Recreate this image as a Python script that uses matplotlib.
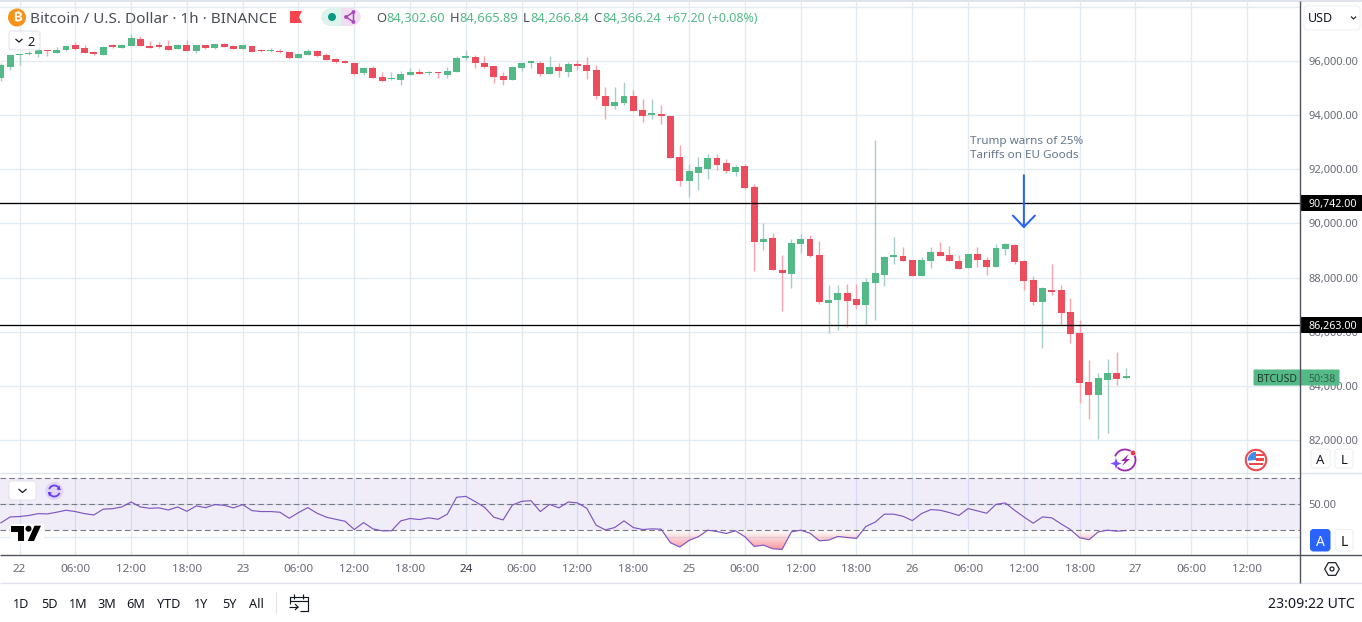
import numpy as np
import matplotlib
matplotlib.use("Agg")
import matplotlib.pyplot as plt
from matplotlib.patches import Circle, FancyBboxPatch, Polygon, Rectangle, RegularPolygon, Arc, Wedge
from matplotlib.path import Path

plt.rcParams['font.family'] = ['Noto Sans', 'DejaVu Sans']

# ---------------- data (hourly candles, first bar = 21 Mar 22:00) ----------------
opens = [95360, 95790, 96210, 96245, 96245, 96380, 96305, 96415, 96600, 96490, 96345, 96230, 96565, 96490, 96565,
         96825, 96565, 96550, 96565, 96455, 96600, 96380, 96600, 96490, 96640, 96565, 96455, 96565, 96380, 96355,
         96345, 96345, 96120, 96230, 96380, 96230, 96085, 96010, 95935, 95570, 95755, 95420, 95320, 95310, 95495,
         95605, 95545, 95570, 95495, 95605, 96120, 96160, 95935, 95825, 95460, 95310, 95755, 95935, 95935, 95530,
         95790, 95605, 95865, 95865, 95680, 94720, 94350, 94460, 94720, 94205, 94020, 94055, 93980, 92470, 91585,
         91880, 92025, 92430, 92245, 91915, 92135, 91360, 89330, 89480, 88300, 88150, 89260, 89445, 88855, 87080,
         87190, 87450, 87230, 87005, 87820, 88115, 88780, 88815, 88670, 88080, 88630, 88965, 88855, 88630, 88375,
         88890, 88670, 88410, 89075, 89220, 88630, 87930, 87120, 87560, 87560, 86750, 85975, 84165, 83685, 84240,
         84500, 84302]
highs = [95925, 96230, 96260, 96355, 96440, 96420, 96530, 96590, 96690, 96600, 96370, 96565, 96640, 96640, 97005,
         96935, 96735, 96700, 96785, 96640, 96785, 96600, 96600, 96640, 96675, 96600, 96600, 96565, 96455, 96490,
         96455, 96345, 96305, 96455, 96415, 96305, 96120, 96050, 95935, 95790, 95825, 95605, 95605, 95640, 95755,
         95715, 95640, 95605, 95790, 96195, 96415, 96230, 96195, 95825, 95605, 95825, 95935, 96010, 96010, 96195,
         95935, 95975, 96050, 96160, 95865, 95050, 95050, 95235, 94940, 94610, 94610, 94390, 93980, 92910, 92210,
         92470, 92580, 92580, 92395, 92175, 92210, 91470, 90035, 89665, 88855, 89445, 89625, 89590, 89370, 87745,
         87745, 87780, 87780, 88005, 93095, 88815, 89515, 89150, 88670, 88780, 89150, 89330, 89185, 88855, 88890,
         89150, 88780, 89260, 89295, 89260, 88670, 88080, 87670, 88520, 87745, 87265, 86455, 84980, 84500, 85015,
         85275, 84666]
lows = [95250, 95680, 95840, 96210, 96160, 96195, 96305, 96380, 96390, 96305, 96210, 96210, 96465, 96490, 96565,
        96565, 96490, 96490, 96415, 96455, 96380, 96306, 96455, 96455, 96530, 96455, 96455, 96345, 96345, 96345,
        96305, 96085, 96120, 96230, 96160, 96050, 95910, 95910, 95495, 95495, 95385, 95275, 95310, 95125, 95495,
        95530, 95495, 95385, 95385, 95605, 96050, 95755, 95755, 95200, 95125, 95310, 95640, 95755, 95460, 95530,
        95420, 95420, 95680, 95345, 94610, 93870, 94240, 94390, 94165, 93760, 93870, 93685, 92430, 91400, 90995,
        91250, 91655, 91990, 91880, 91770, 91290, 88260, 89035, 88300, 86785, 87635, 88925, 88780, 87045, 85975,
        86085, 86195, 86860, 86270, 86455, 87710, 88520, 88630, 88080, 88080, 88375, 88815, 88630, 88335, 88375,
        88410, 88115, 88410, 88855, 88520, 87560, 87005, 85420, 87375, 86270, 85605, 83390, 82800, 82065, 82285,
        84055, 84267]
closes = [95830, 96200, 96230, 96280, 96405, 96355, 96415, 96565, 96455, 96305, 96245, 96530, 96530, 96600, 96860,
          96565, 96490, 96530, 96415, 96600, 96380, 96600, 96490, 96640, 96530, 96455, 96600, 96345, 96355, 96380,
          96320, 96120, 96270, 96380, 96195, 96050, 95975, 95910, 95530, 95755, 95385, 95275, 95345, 95530, 95605,
          95530, 95605, 95545, 95640, 96120, 96160, 95935, 95790, 95420, 95310, 95790, 95935, 95975, 95530, 95790,
          95640, 95900, 95825, 95640, 94720, 94350, 94500, 94720, 94165, 93980, 94055, 93980, 92430, 91585, 91950,
          92100, 92430, 92175, 91950, 92100, 91325, 89330, 89445, 88300, 88190, 89295, 89445, 88815, 87120, 87190,
          87450, 87155, 87005, 87855, 88190, 88780, 88815, 88630, 88080, 88670, 88965, 88815, 88630, 88335, 88890,
          88670, 88410, 89110, 89260, 88595, 87895, 87120, 87635, 87490, 86710, 85935, 84130, 83685, 84315, 84500,
          84280, 84366]
rsi = [35.6, 40.1, 40.4, 41.2, 42.6, 42.4, 43.7, 45.2, 44.2, 42.6, 41.6, 46.0, 46.4, 47.7, 51.5, 47.7, 46.7, 47.0,
       45.4, 47.7, 44.4, 48.5, 47.2, 49.5, 49.0, 47.0, 49.5, 44.9, 44.2, 44.2, 43.7, 39.1, 43.4, 47.2, 42.9, 39.9,
       38.3, 36.8, 30.5, 35.8, 31.0, 29.5, 29.5, 37.1, 38.9, 38.1, 39.4, 38.3, 42.2, 55.1, 55.8, 51.8, 47.5, 39.9,
       37.8, 49.2, 52.0, 52.5, 44.2, 49.7, 47.0, 51.5, 50.8, 46.7, 33.8, 30.2, 32.0, 37.1, 32.0, 30.5, 31.0, 30.7,
       20.4, 17.1, 22.2, 25.0, 30.0, 29.0, 27.5, 29.5, 25.0, 17.6, 18.6, 15.8, 15.3, 28.7, 30.0, 27.7, 21.9, 22.4,
       25.2, 24.4, 23.7, 32.8, 36.1, 42.2, 42.2, 40.6, 37.3, 42.7, 45.7, 45.2, 43.4, 41.2, 46.5, 44.7, 42.9, 49.7,
       50.8, 45.2, 40.1, 35.3, 40.1, 39.4, 34.8, 30.5, 24.2, 22.7, 28.7, 30.0, 29.2, 29.7]
time_labels = ['22', '06:00', '12:00', '18:00', '23', '06:00', '12:00', '18:00', '24', '06:00', '12:00', '18:00',
               '25', '06:00', '12:00', '18:00', '26', '06:00', '12:00', '18:00', '27', '06:00', '12:00']
price_ticks = [82000, 84000, 86000, 88000, 90000, 92000, 94000, 96000]
levels = [90742, 86263]
rsi_bands = [70, 50, 30]

# ---------------- layout helpers ----------------
W, H = 1362, 622
UP, DOWN = '#53b987', '#eb4d5c'
WICK_UP, WICK_DOWN = '#a5cdc9', '#f8a3ad'
GRID = '#e3ebf2'
LABEL = '#686b76'
MIN_BODY = 55  # thinnest drawn candle body, in price units (about 1.5 px)

fig = plt.figure(figsize=(W / 100, H / 100), dpi=100, facecolor='white')

def pane(top, bottom):
    return fig.add_axes([0, 1 - bottom / H, 1300 / W, (bottom - top) / H])

hours = np.arange(len(opens)) - 2
xlim = (-2.097, 137.69)
day_ticks = np.arange(len(time_labels)) * 6

# ---------------- price pane ----------------
ax = pane(2, 473)
ax.set_xlim(*xlim)
ax.set_ylim(80793, 98173)
ax.patch.set_alpha(0)
for s in ax.spines.values():
    s.set_visible(False)
ax.set_xticks(day_ticks)
ax.set_yticks(price_ticks + [98000])
ax.tick_params(length=0, labelbottom=False, labelleft=False, labelright=True, right=False, left=False, pad=5.8,
               labelsize=8.0, labelcolor=LABEL)
ax.set_yticklabels([f'{p:,.2f}' for p in price_ticks] + [''])
for t in ax.get_yticklabels():
    t.set_verticalalignment('center_baseline')
ax.grid(True, color=GRID, lw=1.0, zorder=0)
ax.set_axisbelow(True)

o, h_, l, c = map(np.array, (opens, highs, lows, closes))
is_up = c >= o
ax.vlines(hours[is_up], l[is_up], h_[is_up], color=WICK_UP, lw=1.0, zorder=2)
ax.vlines(hours[~is_up], l[~is_up], h_[~is_up], color=WICK_DOWN, lw=1.0, zorder=2)
ax.bar(hours, np.maximum(np.abs(c - o), MIN_BODY), bottom=np.minimum(o, c), width=0.75,
       color=np.where(is_up, UP, DOWN), lw=0, zorder=3)
for lev in levels:
    ax.axhline(lev, color='black', lw=0.95, zorder=4)

# annotation arrow (Trump warns ...)
ax.annotate('', xy=(108, 89870), xytext=(108, 91780), zorder=5,
            arrowprops=dict(arrowstyle='-', color='#2962ff', lw=1.45, shrinkA=0, shrinkB=0))
ax.plot([106.82, 108, 109.18], [90292, 89870, 90292], color='#2962ff', lw=1.45, zorder=5, solid_capstyle='round')

# ---------------- RSI pane ----------------
RSI_LIM = (11.05, 73.62)
ar = pane(473, 555)
ar.set_xlim(*xlim)
ar.set_ylim(*RSI_LIM)
ar.patch.set_alpha(0)
for s in ar.spines.values():
    s.set_visible(False)
ar.set_xticks(day_ticks)
ar.set_xticklabels(time_labels)
ar.set_yticks([25, 50])
ar.set_yticklabels(['', '50.00'])
ar.yaxis.tick_right()
ar.tick_params(axis='y', length=0, pad=5.8, labelsize=8.0, labelcolor=LABEL)
ar.tick_params(axis='x', length=0, pad=6.4, labelsize=8.4, labelcolor=LABEL)
for t in ar.get_yticklabels():
    t.set_verticalalignment('center_baseline')
for t in ar.get_xticklabels():
    if t.get_text() == '24':
        t.set_color('#3a3d46')
        t.set_fontweight('bold')
ar.grid(True, color=GRID, lw=1.0, zorder=0)
ar.set_axisbelow(True)
ar.axhspan(min(rsi_bands), max(rsi_bands), color='#7e57c2', alpha=0.1, lw=0, zorder=1)
for b in rsi_bands:
    ar.axhline(b, color='#787b86', lw=0.8, ls=(0, (5, 3)), zorder=2)

rsi_arr = np.array(rsi, dtype=float)
poly = ar.fill_between(hours, rsi_arr, 30, where=rsi_arr < 30, interpolate=True, facecolor='none', lw=0)
clip = Path.make_compound_path(*poly.get_paths())
grad = np.zeros((64, 2, 4))
grad[..., :3] = matplotlib.colors.to_rgb('#f23645')
grad[..., 3] = np.linspace(0.55, 0.0, 64)[:, None]
im = ar.imshow(grad, extent=(xlim[0], xlim[1], 14, 30), origin='lower', aspect='auto', zorder=2, interpolation='bilinear')
im.set_clip_path(clip, transform=ar.transData)
ar.set_xlim(*xlim)
ar.set_ylim(*RSI_LIM)
ar.plot(hours, rsi_arr, color='#7e57c2', lw=0.85, zorder=3)

# ---------------- UI overlay in pixel coordinates ----------------
ui = fig.add_axes([0, 0, 1, 1], zorder=10)
ui.set_xlim(0, W)
ui.set_ylim(H, 0)
ui.axis('off')
ui.patch.set_alpha(0)

def line(xs, ys, color='#131722', lw=0.72, **kw):
    ui.plot(xs, ys, color=color, lw=lw, solid_capstyle=kw.pop('cap', 'butt'), **kw)

def button(x0, y0, x1, y1, fc='white', ec='#e0e3eb', r=3, lw=0.72):
    ui.add_patch(FancyBboxPatch((x0 + r, y0 + r), x1 - x0 - 2 * r, y1 - y0 - 2 * r,
                                boxstyle=f'round,pad={r},rounding_size={r}', fc=fc, ec=ec, lw=lw, mutation_aspect=1))

def txt(x, y, s, size=9.4, color='#131722', ha='left', **kw):
    return ui.text(x, y, s, fontsize=size, color=color, ha=ha, va='center_baseline', **kw)

# frame lines
line([0, 1362], [0.8, 0.8], color='#e0e3eb', lw=1.4)
line([0, 1362], [473, 473], color='#e0e3eb', lw=1.0)
line([0, 1362], [555, 555], color='#50535e', lw=1.0)
line([0, 1362], [583, 583], color='#e0e3eb', lw=1.0)
line([1300, 1300], [1, 583], color='#50535e', lw=1.0)

# header
ui.add_patch(Circle((17, 17.5), 9, fc='#f7931a', ec='none'))
ui.text(17, 17.5, '₿', fontsize=9.5, color='white', ha='center', va='center', fontweight='bold',
        family=['Inter', 'Noto Sans', 'Roboto', 'Open Sans', 'Lato', 'Noto Sans CJK SC', 'DejaVu Sans'])
txt(30, 17.5, 'Bitcoin / U.S. Dollar · 1h · BINANCE', size=11.0, color='#4c4e58')
ui.add_patch(Polygon([(290, 11), (302, 11), (299, 17), (302, 23), (290, 23)], fc='#f9444f', ec='none'))
ui.add_patch(Wedge((330, 17), 8.7, 90, 270, fc='#def2ee', ec='none'))
ui.add_patch(Rectangle((330, 8.3), 11, 17.4, fc='#def2ee', ec='none'))
ui.add_patch(Rectangle((341, 8.3), 11, 17.4, fc='#f0def2', ec='none'))
ui.add_patch(Wedge((352, 17), 8.7, -90, 90, fc='#f0def2', ec='none'))
ui.add_patch(Circle((332, 17), 4, fc='#089981', ec='none'))
line([353.5, 346, 353.5, 353.5], [12, 17, 22, 12], color='#ab47bc', lw=1.1)
for px, py in [(353.5, 12), (346, 17), (353.5, 22)]:
    ui.add_patch(Circle((px, py), 1.9, fc='#ab47bc', ec='none'))
GREEN_T = '#53b987'
for lx, letter, vx, val in [(376.5, 'O', 386.5, '84,302.60'), (450, 'H', 459, '84,665.89'),
                            (522.5, 'L', 530, '84,266.84'), (593, 'C', 602, '84,366.24')]:
    txt(lx, 17.5, letter, color='#4c4e58', size=9.3)
    txt(vx, 17.5, val, color=GREEN_T, size=9.3)
txt(666, 17.5, '+67.20 (+0.08%)', color=GREEN_T, size=8.9)

# collapsed indicators button
button(9, 31, 40, 50)
line([15.5, 19, 22.5], [39, 42, 39], color='#131722', lw=0.9)
txt(27, 40.5, '2', size=9.2)

# currency selector
button(1304, 6, 1360, 30, ec='#eceef2')
txt(1307.5, 17.5, 'USD', size=9.0)
line([1351, 1353.5, 1356], [16.5, 19, 16.5], color='#131722', lw=0.8)

# annotation text
ui.text(970, 148.5, 'Trump warns of 25%\nTariffs on EU Goods', fontsize=8.4, color='#65788c', ha='left', va='center', linespacing=1.32)

# price labels for horizontal levels
for lev, ycen in zip(levels, [203, 325]):
    ui.add_patch(Rectangle((1300, ycen - 8), 62, 16, fc='black', ec='none'))
    txt(1332.5, ycen, f'{lev:,.2f}', size=7.7, color='white', ha='center', fontweight='bold')

# last price label
ui.add_patch(FancyBboxPatch((1254, 370), 85, 15, boxstyle='round,pad=0.5,rounding_size=1', fc=UP, ec='none'))
txt(1257, 378, 'BTCUSD', size=7.5, color='#24352e')
txt(1308, 378, '50:38', size=7.7, color='#3a5e50')

# lightning icon
ui.add_patch(Arc((1125, 460), 21, 21, theta1=-160, theta2=135, color='#9c27b0', lw=1.3))
ui.add_patch(Polygon([(1129, 454), (1121, 461), (1125, 461), (1122, 466), (1130, 459), (1126, 459)], fc='#9c27b0', ec='none'))
ui.add_patch(Polygon([(1116, 458), (1117.5, 462), (1121.5, 463.5), (1117.5, 465), (1116, 469),
                      (1114.5, 465), (1110.5, 463.5), (1114.5, 462)], fc='#7c4dff', ec='none'))
ui.add_patch(Circle((1133, 453), 2.8, fc='#f23645', ec='white', lw=0.5))

# US flag icon
ui.add_patch(Circle((1256, 460), 10.2, fc='white', ec='#f0484f', lw=1.5))
ui.add_patch(Wedge((1256, 460), 8.2, 175, 270, fc='#3f8fe8', ec='none'))
ui.add_patch(Rectangle((1256, 454), 7.5, 2.2, fc='#f0484f', ec='none'))
ui.add_patch(Rectangle((1256, 458), 8.2, 3, fc='#f0484f', ec='none'))
ui.add_patch(Rectangle((1249, 463), 14, 2.4, fc='#f0484f', ec='none'))

# A / L buttons
button(1311, 449, 1330, 468, ec='#eceef2')
txt(1320.5, 458.8, 'A', size=9.4, ha='center')
button(1335, 449, 1353, 468, ec='#eceef2')
txt(1344, 458.8, 'L', size=9.4, ha='center')
button(1310.5, 529.5, 1330, 551, fc='#2962ff', ec='#2962ff')
txt(1320.3, 540.3, 'A', size=10, ha='center', color='white')
button(1335, 529.5, 1353, 551, ec='#eceef2')
txt(1344, 540.3, 'L', size=10, ha='center')

# RSI pane widgets
button(9, 481, 36, 500, ec='#e4e2ea')
line([18.5, 22.5, 26.5], [489, 492.5, 489], color='#131722', lw=0.9)
ui.add_patch(Circle((54.3, 491), 9, fc='#dfd5f6', ec='none'))
ui.add_patch(Arc((54.3, 491), 11, 11, theta1=200, theta2=350, color='#6b3df5', lw=1.3))
ui.add_patch(Arc((54.3, 491), 11, 11, theta1=20, theta2=170, color='#6b3df5', lw=1.3))
ui.add_patch(Polygon([(59.5, 485.5), (60.5, 490), (56.5, 489.5)], fc='#6b3df5', ec='none'))
ui.add_patch(Polygon([(49, 496.5), (48, 492), (52, 492.5)], fc='#6b3df5', ec='none'))

# TradingView logo
ui.add_patch(Rectangle((9.5, 524), 34.5, 19, fc='white', ec='none', alpha=0.9))
ui.add_patch(Polygon([(11, 525.7), (23.5, 525.7), (23.5, 541), (17.5, 541), (17.5, 531.5), (11, 531.5)], fc='black', ec='none'))
ui.add_patch(Circle((28.5, 528.7), 3, fc='black', ec='none'))
ui.add_patch(Polygon([(34.5, 525.7), (41, 525.7), (34, 541), (27.7, 541)], fc='black', ec='none'))

# settings hexagon
ui.add_patch(RegularPolygon((1332, 569), 6, radius=7.3, orientation=np.pi / 2, fc='none', ec='#131722', lw=0.85))
ui.add_patch(Circle((1332, 569), 2, fc='none', ec='#131722', lw=0.85))

# range toolbar
for xc, s in zip([21, 49, 78, 107, 136, 169, 201, 229, 256], ['1D', '5D', '1M', '3M', '6M', 'YTD', '1Y', '5Y', 'All']):
    txt(xc, 603, s, size=9.1, ha='center')
line([275.5, 275.5], [592, 613], color='#e0e3eb', lw=0.8)
line([289.5, 289.5, 307.5, 307.5, 300], [604, 597, 597, 611, 611], lw=0.85)
line([289.5, 307.5], [600.5, 600.5], lw=0.85)
line([294, 294], [594, 599], lw=0.85)
line([303, 303], [594, 599], lw=0.85)
line([289, 298], [607, 607], lw=0.85)
line([295, 298, 295], [604, 607, 610], lw=0.85)
txt(1355, 603, '23:09:22 UTC', size=10.2, ha='right')

fig.savefig('out.png', dpi=100, facecolor='white')
